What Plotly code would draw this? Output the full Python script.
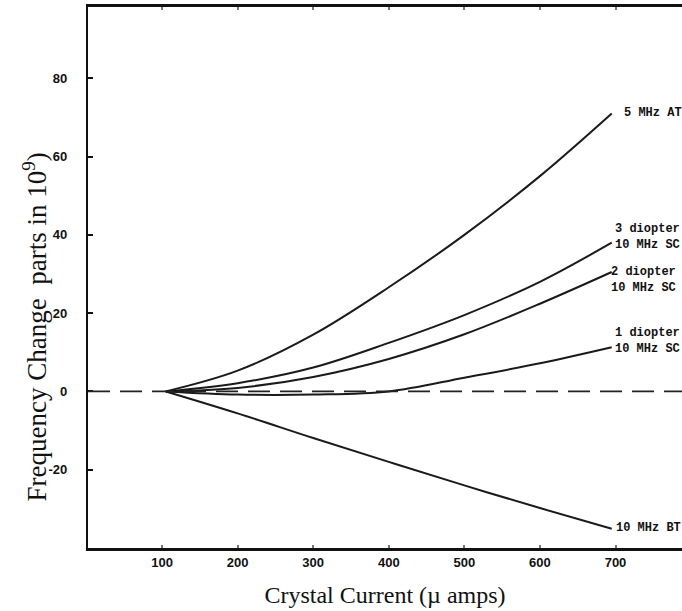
import plotly.graph_objects as go

# Crystal current (micro-amps)
current = [105, 200, 300, 400, 500, 600, 695]

# Frequency change (parts in 10^9)
at_5mhz = [0, 5.3, 14.5, 26.6, 40, 55, 71]
sc_3diopter = [0, 2.1, 6.1, 12.4, 19.5, 28, 38]
sc_2diopter = [0, 0.9, 3.7, 8.3, 14.6, 22.4, 30.5]
sc_1diopter = [0, -0.8, -0.8, 0, 3.5, 7.2, 11.3]
bt_10mhz = [0, -5.6, -11.9, -18, -24, -29.8, -35.1]

series = [
    ("5 MHz AT", at_5mhz, 10, 0),
    ("3 diopter<br>10 MHz SC", sc_3diopter, 1, 6),
    ("2 diopter<br>10 MHz SC", sc_2diopter, -3, -8),
    ("1 diopter<br>10 MHz SC", sc_1diopter, 1, 6),
    ("10 MHz BT", bt_10mhz, 2, 1),
]

x_ticks = [100, 200, 300, 400, 500, 600, 700]
y_ticks = [-20, 0, 20, 40, 60, 80]

fig = go.Figure()

fig.add_hline(y=0, line=dict(color="#222", width=1.6, dash="22px,10px"))

for name, ys, xs, ysh in series:
    fig.add_trace(go.Scatter(
        x=current, y=ys, mode="lines", line_shape="spline",
        line=dict(color="#1a1a1a", width=2), name=name.replace("<br>", " "),
        showlegend=False,
    ))
    fig.add_annotation(
        x=current[-1], y=ys[-1], text=name, showarrow=False,
        xanchor="left", yanchor="middle", align="left",
        xshift=xs, yshift=ysh,
        font=dict(family="Liberation Mono", size=12, color="#111", weight="bold"),
    )

fig.update_xaxes(
    range=[2, 788], tickvals=x_ticks, ticktext=[str(v) for v in x_ticks],
    showline=True, linecolor="#111", linewidth=2.6, mirror="ticks",
    ticks="inside", ticklen=3, tickwidth=2, tickcolor="#777",
    showgrid=False, zeroline=False,
    tickfont=dict(family="Liberation Sans", size=13, color="#111", weight="bold"),
    ticklabelstandoff=1,
    title=dict(text="Crystal Current (\u00b5 amps)",
               font=dict(family="Liberation Serif", size=24, color="#111"),
               standoff=17),
)
fig.update_yaxes(
    range=[-40, 98.2], tickvals=y_ticks, ticktext=[str(v) for v in y_ticks],
    showline=True, linecolor="#111", linewidth=2.2, mirror=False,
    ticks="inside", ticklen=5, tickwidth=1.5, tickcolor="#111",
    showgrid=False, zeroline=False,
    tickfont=dict(family="Liberation Sans", size=13, color="#111", weight="bold"),
    ticklabelstandoff=16,
)

# y-axis title placed as in the original (lower than the axis centre)
fig.add_annotation(
    xref="paper", yref="paper", x=-0.089, y=0.408, textangle=-90,
    text="Frequency Change  parts in 10<sup>9</sup>)", showarrow=False,
    xanchor="center", yanchor="middle",
    font=dict(family="Liberation Serif", size=27, color="#111"),
)

fig.update_layout(
    width=682, height=611,
    margin=dict(l=88, r=0, t=7, b=63),
    paper_bgcolor="white", plot_bgcolor="white",
)

fig.write_html(
    "out.html",
    config={"displayModeBar": False},
    post_script="document.body.style.margin='0';document.body.style.overflow='hidden';",
)
